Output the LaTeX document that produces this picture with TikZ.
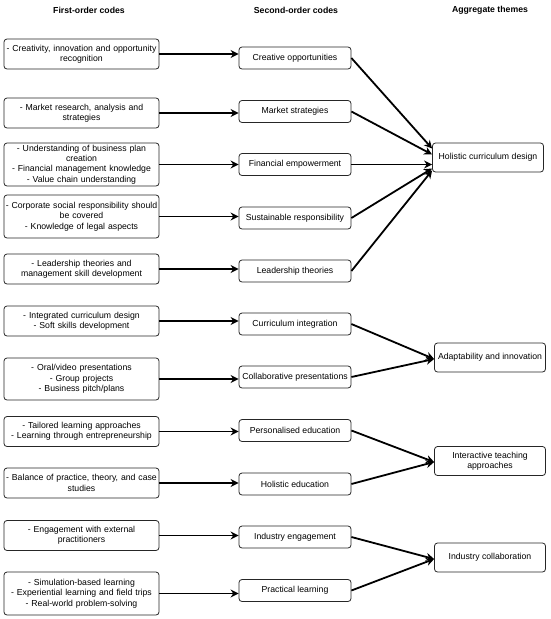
\documentclass[tikz,border=0pt]{standalone}
\usepackage{fontspec}
\setmainfont{Liberation Sans}
\usetikzlibrary{arrows.meta,positioning}

\begin{document}
\begin{tikzpicture}[%
    x=1pt, y=-1pt,
    >={Stealth[length=8pt,width=8pt]},
    every node/.style={font=\fontsize{8.7}{10.3}\selectfont},
    box/.style={draw=black!85, line width=0.8pt, rounded corners=3pt, align=center, inner sep=1pt},
    first/.style={box, text width=153pt, minimum height=30pt},
    second/.style={box, minimum width=112pt, minimum height=22pt},
    theme/.style={box, minimum width=111pt, minimum height=29pt},
    head/.style={font=\fontsize{8.7}{10.3}\selectfont\bfseries},
    link/.style={->, line width=1.8pt}
    ]

    \useasboundingbox (0,0) rectangle (550,619);

    % column titles
    \node[head] (h1) at (89,10) {First-order codes};
    \node[head] (h2) at (296,10) {Second-order codes};
    \node[head] (h3) at (490,10) {Aggregate themes};

    % first-order codes
    \node[first] (f1) at (81.5,54) {- Creativity, innovation and opportunity\\recognition};
    \node[first] (f2) at (81.5,113) {- Market research, analysis and\\strategies};
    \node[first, minimum height=43pt] (f3) at (81.5,164.5) {- Understanding of business plan\\creation\\- Financial management knowledge\\- Value chain understanding};
    \node[first, minimum height=43pt] (f4) at (81.5,216.5) {- Corporate social responsibility should\\be covered\\- Knowledge of legal aspects};
    \node[first] (f5) at (81.5,269) {- Leadership theories and\\management skill development};
    \node[first] (f6) at (81.5,321) {- Integrated curriculum design\\- Soft skills development};
    \node[first, minimum height=42pt] (f7) at (81.5,379) {- Oral/video presentations\\- Group projects\\- Business pitch/plans};
    \node[first] (f8) at (81.5,431.5) {- Tailored learning approaches\\- Learning through entrepreneurship};
    \node[first] (f9) at (81.5,483) {- Balance of practice, theory, and case\\studies};
    \node[first] (f10) at (81.5,535.5) {- Engagement with external\\practitioners};
    \node[first, minimum height=43pt] (f11) at (81.5,593.5) {- Simulation-based learning\\- Experiential learning and field trips\\- Real-world problem-solving};

    % second-order codes
    \node[second] (s1) at (295,58) {Creative opportunities};
    \node[second] (s2) at (295,111.5) {Market strategies};
    \node[second] (s3) at (295,164.5) {Financial empowerment};
    \node[second] (s4) at (295,218) {Sustainable responsibility};
    \node[second] (s5) at (295,271) {Leadership theories};
    \node[second] (s6) at (295,324) {Curriculum integration};
    \node[second] (s7) at (295,377) {Collaborative presentations};
    \node[second] (s8) at (295,430.5) {Personalised education};
    \node[second] (s9) at (295,484) {Holistic education};
    \node[second] (s10) at (295,537) {Industry engagement};
    \node[second] (s11) at (295,590.5) {Practical learning};

    % aggregate themes
    \node[theme] (a1) at (488,157.5) {Holistic curriculum design};
    \node[theme] (a2) at (490,357.5) {Adaptability and innovation};
    \node[theme] (a3) at (490,461) {Interactive teaching\\approaches};
    \node[theme] (a4) at (490,557.5) {Industry collaboration};

    \foreach \i in {1,...,11}
        \draw[link] (f\i.east) -- (f\i.east -| s\i.west);

    \foreach \i/\d in {1/9,2/3,3/-7,4/-11,5/-13}
        \draw[link] (s\i.east) -- ([yshift=\d pt]a1.west);
    \draw[link] (s6.east) -- ([yshift=-1.5pt]a2.west);
    \draw[link] (s7.east) -- ([yshift=-1.5pt]a2.west);
    \draw[link] (s8.east) -- ([yshift=-1pt]a3.west);
    \draw[link] (s9.east) -- ([yshift=-1pt]a3.west);
    \draw[link] (s10.east) -- ([yshift=-1.5pt]a4.west);
    \draw[link] (s11.east) -- ([yshift=-1.5pt]a4.west);

\end{tikzpicture}
\end{document}
